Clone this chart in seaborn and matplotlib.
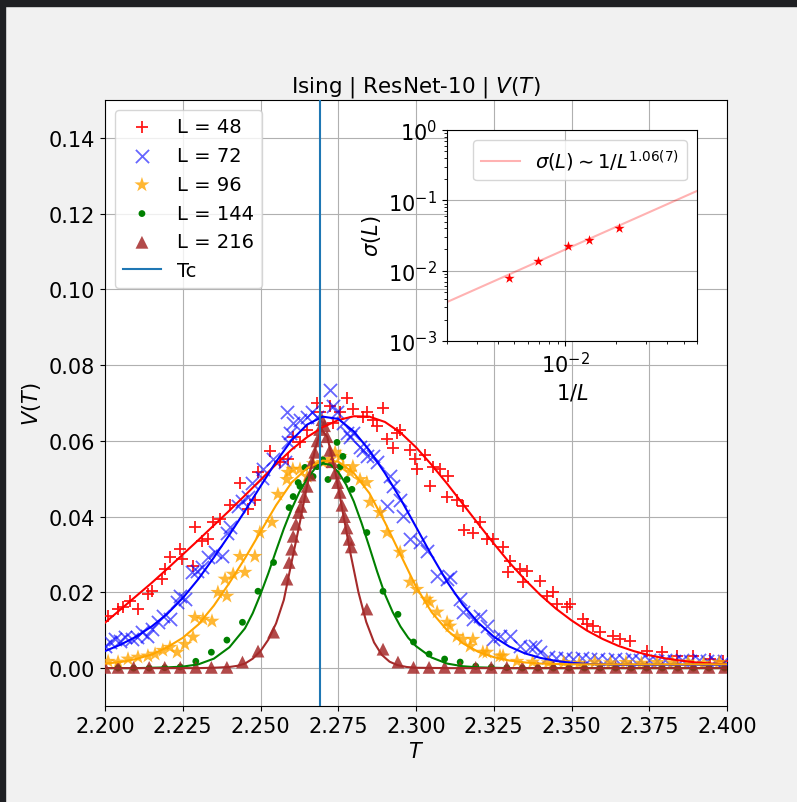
import matplotlib
matplotlib.use("Agg")
import matplotlib.pyplot as plt
import seaborn as sns
from matplotlib.patches import Rectangle
from matplotlib.ticker import MultipleLocator, FormatStrFormatter

# ---------------- data ----------------
T_c = 2.269

# L = 48
T_48 = [2.2010, 2.2042, 2.2058, 2.2080, 2.2106, 2.2138, 2.2151, 2.2183, 2.2193, 2.2209,
        2.2241, 2.2248, 2.2283, 2.2289, 2.2312, 2.2331, 2.2347, 2.2370, 2.2402, 2.2434,
        2.2460, 2.2482, 2.2492, 2.2531, 2.2563, 2.2588, 2.2605, 2.2627, 2.2650, 2.2682,
        2.2691, 2.2723, 2.2733, 2.2756, 2.2778, 2.2797, 2.2830, 2.2842, 2.2862, 2.2875,
        2.2894, 2.2907, 2.2926, 2.2939, 2.2949, 2.2981, 2.2997, 2.3003, 2.3029, 2.3045,
        2.3055, 2.3077, 2.3100, 2.3103, 2.3132, 2.3151, 2.3155, 2.3183, 2.3206, 2.3228,
        2.3248, 2.3280, 2.3296, 2.3302, 2.3334, 2.3344, 2.3357, 2.3399, 2.3421, 2.3441,
        2.3453, 2.3486, 2.3495, 2.3537, 2.3550, 2.3569, 2.3592, 2.3633, 2.3656, 2.3688,
        2.3743, 2.3791, 2.3839, 2.3891, 2.3945, 2.3987]
V_48 = [0.0137, 0.0156, 0.0161, 0.0177, 0.0156, 0.0195, 0.0203, 0.0235, 0.0261, 0.0293,
        0.0314, 0.0287, 0.0269, 0.0372, 0.0335, 0.0340, 0.0385, 0.0393, 0.0432, 0.0490,
        0.0419, 0.0445, 0.0517, 0.0572, 0.0543, 0.0551, 0.0611, 0.0596, 0.0630, 0.0701,
        0.0675, 0.0691, 0.0648, 0.0675, 0.0714, 0.0683, 0.0664, 0.0675, 0.0656, 0.0638,
        0.0688, 0.0604, 0.0582, 0.0622, 0.0630, 0.0577, 0.0551, 0.0525, 0.0564, 0.0480,
        0.0530, 0.0525, 0.0451, 0.0506, 0.0445, 0.0427, 0.0366, 0.0358, 0.0387, 0.0340,
        0.0340, 0.0319, 0.0253, 0.0282, 0.0261, 0.0227, 0.0256, 0.0229, 0.0190, 0.0200,
        0.0169, 0.0161, 0.0169, 0.0129, 0.0116, 0.0111, 0.0095, 0.0084, 0.0076, 0.0071,
        0.0045, 0.0042, 0.0032, 0.0032, 0.0024, 0.0018]

# L = 72
T_72 = [2.2000, 2.2016, 2.2032, 2.2048, 2.2064, 2.2087, 2.2103, 2.2119, 2.2135, 2.2151,
        2.2170, 2.2186, 2.2209, 2.2232, 2.2241, 2.2257, 2.2280, 2.2296, 2.2312, 2.2331,
        2.2354, 2.2376, 2.2392, 2.2402, 2.2428, 2.2441, 2.2460, 2.2473, 2.2505, 2.2508,
        2.2540, 2.2579, 2.2585, 2.2588, 2.2595, 2.2605, 2.2627, 2.2650, 2.2666, 2.2682,
        2.2723, 2.2733, 2.2746, 2.2765, 2.2778, 2.2788, 2.2797, 2.2820, 2.2830, 2.2842,
        2.2862, 2.2875, 2.2907, 2.2916, 2.2926, 2.2949, 2.2958, 2.2981, 2.3013, 2.3035,
        2.3068, 2.3100, 2.3109, 2.3141, 2.3151, 2.3183, 2.3206, 2.3228, 2.3248, 2.3270,
        2.3302, 2.3334, 2.3367, 2.3383, 2.3399, 2.3425, 2.3450, 2.3480, 2.3505, 2.3535,
        2.3560, 2.3585, 2.3615, 2.3640, 2.3670, 2.3695, 2.3720, 2.3750, 2.3775, 2.3800,
        2.3830, 2.3855, 2.3880, 2.3910, 2.3935, 2.3960, 2.3990]
V_72 = [0.0058, 0.0069, 0.0076, 0.0071, 0.0082, 0.0076, 0.0082, 0.0095, 0.0084, 0.0103,
        0.0121, 0.0137, 0.0129, 0.0174, 0.0190, 0.0182, 0.0253, 0.0256, 0.0266, 0.0293,
        0.0306, 0.0295, 0.0358, 0.0372, 0.0427, 0.0440, 0.0453, 0.0490, 0.0503, 0.0525,
        0.0551, 0.0543, 0.0675, 0.0596, 0.0622, 0.0648, 0.0656, 0.0664, 0.0675, 0.0664,
        0.0735, 0.0691, 0.0675, 0.0648, 0.0622, 0.0611, 0.0622, 0.0585, 0.0577, 0.0559,
        0.0559, 0.0543, 0.0427, 0.0506, 0.0480, 0.0445, 0.0401, 0.0340, 0.0332, 0.0308,
        0.0242, 0.0235, 0.0240, 0.0182, 0.0148, 0.0129, 0.0137, 0.0111, 0.0076, 0.0084,
        0.0084, 0.0058, 0.0055, 0.0058, 0.0042, 0.0030, 0.0026, 0.0028, 0.0024, 0.0026,
        0.0023, 0.0025, 0.0022, 0.0024, 0.0021, 0.0023, 0.0021, 0.0022, 0.0020, 0.0022,
        0.0020, 0.0021, 0.0019, 0.0021, 0.0019, 0.0020, 0.0019]

# L = 96
T_96 = [2.2010, 2.2042, 2.2074, 2.2106, 2.2138, 2.2161, 2.2186, 2.2209, 2.2232, 2.2257,
        2.2283, 2.2289, 2.2315, 2.2344, 2.2363, 2.2392, 2.2386, 2.2412, 2.2434, 2.2450,
        2.2482, 2.2498, 2.2537, 2.2556, 2.2585, 2.2588, 2.2604, 2.2627, 2.2650, 2.2670,
        2.2701, 2.2723, 2.2740, 2.2756, 2.2765, 2.2788, 2.2797, 2.2820, 2.2842, 2.2852,
        2.2884, 2.2907, 2.2949, 2.2981, 2.3003, 2.3035, 2.3045, 2.3068, 2.3100, 2.3109,
        2.3132, 2.3151, 2.3174, 2.3183, 2.3215, 2.3228, 2.3270, 2.3280, 2.3325, 2.3375,
        2.3425, 2.3475, 2.3525, 2.3575, 2.3625, 2.3675, 2.3725, 2.3775, 2.3825, 2.3875,
        2.3925, 2.3975]
V_96 = [0.0018, 0.0016, 0.0024, 0.0029, 0.0032, 0.0037, 0.0047, 0.0055, 0.0042, 0.0063,
        0.0082, 0.0134, 0.0129, 0.0124, 0.0200, 0.0190, 0.0235, 0.0248, 0.0295, 0.0253,
        0.0295, 0.0358, 0.0385, 0.0459, 0.0498, 0.0517, 0.0525, 0.0525, 0.0506, 0.0540,
        0.0543, 0.0551, 0.0570, 0.0559, 0.0532, 0.0517, 0.0532, 0.0498, 0.0490, 0.0438,
        0.0411, 0.0358, 0.0306, 0.0227, 0.0208, 0.0182, 0.0174, 0.0148, 0.0121, 0.0111,
        0.0084, 0.0076, 0.0058, 0.0076, 0.0042, 0.0042, 0.0032, 0.0032, 0.0018, 0.0016,
        0.0014, 0.0015, 0.0013, 0.0016, 0.0014, 0.0015, 0.0013, 0.0015, 0.0014, 0.0016,
        0.0013, 0.0015]

# L = 144
T_144 = [2.2042, 2.2092, 2.2142, 2.2192, 2.2242, 2.2292, 2.2342, 2.2392, 2.2442, 2.2492,
         2.2542, 2.2592, 2.2605, 2.2621, 2.2627, 2.2643, 2.2669, 2.2682, 2.2700, 2.2717,
         2.2746, 2.2756, 2.2765, 2.2778, 2.2794, 2.2842, 2.2894, 2.2942, 2.2992, 2.3042,
         2.3092, 2.3142, 2.3192, 2.3242, 2.3292, 2.3342, 2.3392, 2.3442, 2.3492, 2.3542,
         2.3592, 2.3642, 2.3692, 2.3742, 2.3792, 2.3842, 2.3892, 2.3942, 2.3992]
V_144 = [0.0000, 0.0000, 0.0000, 0.0001, 0.0003, 0.0018, 0.0042, 0.0074, 0.0121, 0.0203,
         0.0279, 0.0424, 0.0453, 0.0490, 0.0480, 0.0530, 0.0506, 0.0532, 0.0550, 0.0498,
         0.0596, 0.0532, 0.0559, 0.0498, 0.0472, 0.0358, 0.0203, 0.0142, 0.0069, 0.0037,
         0.0024, 0.0016, 0.0005, 0.0002, 0.0001, 0.0000, 0.0000, 0.0000, 0.0000, 0.0000,
         0.0000, 0.0000, 0.0000, 0.0000, 0.0000, 0.0000, 0.0000, 0.0000, 0.0000]

# L = 216
T_216 = [2.2000, 2.2042, 2.2092, 2.2142, 2.2192, 2.2242, 2.2292, 2.2342, 2.2392, 2.2442,
         2.2492, 2.2542, 2.2585, 2.2592, 2.2600, 2.2605, 2.2614, 2.2622, 2.2630, 2.2640,
         2.2650, 2.2659, 2.2665, 2.2675, 2.2682, 2.2690, 2.2698, 2.2706, 2.2714, 2.2723,
         2.2730, 2.2740, 2.2748, 2.2756, 2.2762, 2.2770, 2.2778, 2.2785, 2.2792, 2.2842,
         2.2894, 2.2942, 2.2992, 2.3042, 2.3092, 2.3142, 2.3192, 2.3242, 2.3292, 2.3342,
         2.3392, 2.3442, 2.3492, 2.3542, 2.3592, 2.3642, 2.3692, 2.3742, 2.3792, 2.3842,
         2.3892, 2.3942, 2.3992]
V_216 = [0.0002, 0.0002, 0.0002, 0.0002, 0.0002, 0.0002, 0.0002, 0.0002, 0.0002, 0.0016,
         0.0045, 0.0095, 0.0235, 0.0279, 0.0314, 0.0348, 0.0380, 0.0411, 0.0427, 0.0453,
         0.0480, 0.0510, 0.0543, 0.0570, 0.0600, 0.0630, 0.0656, 0.0640, 0.0611, 0.0575,
         0.0545, 0.0515, 0.0490, 0.0464, 0.0430, 0.0400, 0.0370, 0.0340, 0.0320, 0.0156,
         0.0050, 0.0016, 0.0002, 0.0002, 0.0002, 0.0002, 0.0002, 0.0002, 0.0002, 0.0002,
         0.0002, 0.0002, 0.0002, 0.0002, 0.0002, 0.0002, 0.0002, 0.0002, 0.0002, 0.0002,
         0.0002, 0.0002, 0.0002]

# fitted curves
fit_T = [2.200, 2.205, 2.210, 2.215, 2.220, 2.225, 2.230, 2.235, 2.240, 2.245,
         2.250, 2.255, 2.260, 2.265, 2.270, 2.275, 2.280, 2.285, 2.290, 2.295,
         2.300, 2.305, 2.310, 2.315, 2.320, 2.325, 2.330, 2.335, 2.340, 2.345,
         2.350, 2.355, 2.360, 2.365, 2.370, 2.375, 2.380, 2.385, 2.390, 2.395, 2.400]
fit_V_48 = [0.0120, 0.0155, 0.0190, 0.0225, 0.0262, 0.0300, 0.0338, 0.0377, 0.0416, 0.0456,
            0.0497, 0.0538, 0.0577, 0.0610, 0.0636, 0.0655, 0.0665, 0.0664, 0.0650, 0.0622,
            0.0583, 0.0537, 0.0487, 0.0434, 0.0381, 0.0329, 0.0279, 0.0234, 0.0193, 0.0157,
            0.0126, 0.0099, 0.0077, 0.0059, 0.0045, 0.0034, 0.0026, 0.0020, 0.0015, 0.0012, 0.0010]
fit_V_72 = [0.0045, 0.0062, 0.0083, 0.0110, 0.0143, 0.0185, 0.0235, 0.0292, 0.0352, 0.0415,
            0.0480, 0.0545, 0.0602, 0.0643, 0.0664, 0.0658, 0.0625, 0.0575, 0.0515, 0.0447,
            0.0373, 0.0298, 0.0228, 0.0168, 0.0120, 0.0083, 0.0057, 0.0039, 0.0027, 0.0019,
            0.0014, 0.0011, 0.0010, 0.0009, 0.0009, 0.0009, 0.0009, 0.0009, 0.0009, 0.0009, 0.0009]
fit_V_96 = [0.0012, 0.0016, 0.0024, 0.0036, 0.0055, 0.0080, 0.0115, 0.0165, 0.0225, 0.0290,
            0.0360, 0.0430, 0.0490, 0.0528, 0.0548, 0.0545, 0.0515, 0.0462, 0.0385, 0.0300,
            0.0215, 0.0148, 0.0100, 0.0066, 0.0043, 0.0029, 0.0020, 0.0015, 0.0012, 0.0011,
            0.0010, 0.0010, 0.0010, 0.0010, 0.0010, 0.0010, 0.0010, 0.0010, 0.0010, 0.0010, 0.0010]
fit_T_144 = [2.200, 2.210, 2.220, 2.225, 2.230, 2.235, 2.240, 2.245, 2.2475, 2.250,
             2.2525, 2.255, 2.2575, 2.260, 2.2625, 2.265, 2.2675, 2.270, 2.2725, 2.275,
             2.2775, 2.280, 2.2825, 2.285, 2.2875, 2.290, 2.2925, 2.295, 2.2975, 2.300,
             2.305, 2.310, 2.315, 2.320, 2.330, 2.400]
fit_V_144 = [0.0000, 0.0000, 0.0002, 0.0004, 0.0010, 0.0025, 0.0055, 0.0105, 0.0145, 0.0195,
             0.0250, 0.0310, 0.0368, 0.0420, 0.0465, 0.0500, 0.0527, 0.0540, 0.0537, 0.0518,
             0.0485, 0.0440, 0.0383, 0.0320, 0.0255, 0.0195, 0.0148, 0.0110, 0.0080, 0.0058,
             0.0028, 0.0012, 0.0005, 0.0002, 0.0000, 0.0000]
fit_T_216 = [2.200, 2.230, 2.235, 2.240, 2.2425, 2.245, 2.2475, 2.250, 2.2525, 2.255,
             2.2575, 2.260, 2.2625, 2.265, 2.2675, 2.2695, 2.2715, 2.274, 2.2765, 2.279,
             2.2815, 2.284, 2.2865, 2.289, 2.2915, 2.294, 2.297, 2.300, 2.310, 2.400]
fit_V_216 = [0.0000, 0.0000, 0.0001, 0.0003, 0.0006, 0.0012, 0.0025, 0.0045, 0.0075, 0.0118,
             0.0180, 0.0280, 0.0378, 0.0482, 0.0575, 0.0632, 0.0610, 0.0520, 0.0410, 0.0300,
             0.0200, 0.0122, 0.0068, 0.0035, 0.0017, 0.0008, 0.0003, 0.0001, 0.0000, 0.0000]

# inset: width of V(T) vs 1/L
L_sizes = [48, 72, 96, 144, 216]
sigma_L = [0.0404, 0.0275, 0.0224, 0.0137, 0.00785]
inv_L = [1 / L for L in L_sizes]
fit_inv_L = [0.002, 0.06]
fit_sigma = [0.00358, 0.136]

# ---------------- styling ----------------
series = [
    (T_48, V_48, fit_T, fit_V_48, "red", "+", 85, 0.9, 1.3),
    (T_72, V_72, fit_T, fit_V_72, "blue", "x", 90, 0.6, 1.3),
    (T_96, V_96, fit_T, fit_V_96, "orange", "*", 130, 0.8, 0),
    (T_144, V_144, fit_T_144, fit_V_144, "green", "o", 24, 1.0, 0),
    (T_216, V_216, fit_T_216, fit_V_216, "brown", "^", 85, 0.85, 0),
]

fig = plt.figure(figsize=(7.97, 8.03), dpi=100, facecolor="#f1f1f1")
ax = fig.add_axes([105 / 797, 1 - 707 / 803, 622 / 797, 606 / 803])

for (T, V, fT, fV, color, marker, size, alpha, lw), L in zip(series, L_sizes):
    sns.scatterplot(x=T, y=V, marker=marker, s=size, color=color, alpha=alpha,
                    linewidth=lw, edgecolor=color if lw else "none",
                    label=f"L = {L}", ax=ax, zorder=3)
    sns.lineplot(x=fT, y=fV, color=color, linewidth=1.5, estimator=None,
                 sort=False, ax=ax, zorder=4)

ax.axvline(T_c, color="#1f77b4", linewidth=1.5, label="Tc", zorder=5)

ax.set_xlim(2.2, 2.4)
ax.set_ylim(-0.01, 0.15)
ax.xaxis.set_major_locator(MultipleLocator(0.025))
ax.xaxis.set_major_formatter(FormatStrFormatter("%.3f"))
ax.yaxis.set_major_locator(MultipleLocator(0.02))
ax.yaxis.set_major_formatter(FormatStrFormatter("%.2f"))
ax.tick_params(labelsize=15)
ax.grid(True, color="#b0b0b0", linewidth=0.8)
ax.set_axisbelow(True)
ax.set_xlabel("$T$", fontsize=15)
ax.set_ylabel("$V(T)$", fontsize=15)
ax.set_title("Ising | ResNet-10 | $V(T)$", fontsize=15.5)
ax.legend(loc="upper left", fontsize=14)

# inset
ins = fig.add_axes([447 / 797, 1 - 342 / 803, 250 / 797, 211 / 803])
sns.lineplot(x=fit_inv_L, y=fit_sigma, color="red", alpha=0.3, linewidth=1.5,
             label=r"$\sigma(L) \sim 1/L^{1.06(7)}$", ax=ins)
sns.scatterplot(x=inv_L, y=sigma_L, marker="*", s=60, color="red",
                linewidth=0, ax=ins, zorder=3)
ins.set_xscale("log")
ins.set_yscale("log")
ins.set_xlim(0.002, 0.06)
ins.set_ylim(1e-3, 1)
ins.grid(True, color="#b0b0b0", linewidth=0.8)
ins.tick_params(labelsize=15)
ins.set_xlabel("$1/L$", fontsize=15)
ins.set_ylabel(r"$\sigma(L)$", fontsize=15)
ins.legend(loc="upper right", fontsize=14)

# dark screenshot frame on top / left edges
fig.add_artist(Rectangle((0, 1 - 7 / 803), 1, 7 / 803, transform=fig.transFigure,
                         color="#1f2023", zorder=10))
fig.add_artist(Rectangle((0, 0), 5 / 797, 1, transform=fig.transFigure,
                         color="#1f2023", zorder=10))

fig.savefig("out.png", dpi=100, facecolor=fig.get_facecolor())
